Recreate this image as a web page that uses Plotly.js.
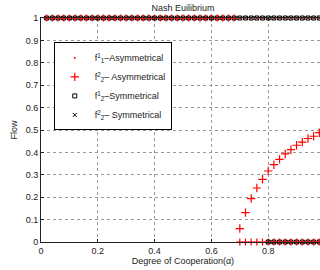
<!DOCTYPE html>
<html>
<head>
<meta charset="utf-8">
<script src="https://cdn.plot.ly/plotly-3.0.1.min.js"></script>
<style>
html,body{margin:0;padding:0;overflow:hidden;background:#fff;}
#chart{width:340px;height:270px;}
</style>
</head>
<body>
<div id="chart"></div>
<script>
// Degree of cooperation (alpha) sample points
const alpha = [0.02,0.04,0.06,0.08,0.10,0.12,0.14,0.16,0.18,0.20,
               0.22,0.24,0.26,0.28,0.30,0.32,0.34,0.36,0.38,0.40,
               0.42,0.44,0.46,0.48,0.50,0.52,0.54,0.56,0.58,0.60,
               0.62,0.64,0.66,0.68,0.70,0.72,0.74,0.76,0.78,0.80,
               0.82,0.84,0.86,0.88,0.90,0.92,0.94,0.96,0.98,1.00];
// f_1^1 asymmetrical (red dots)
const f11Asym = [1,1,1,1,1,1,1,1,1,1, 1,1,1,1,1,1,1,1,1,1,
                 1,1,1,1,1,1,1,1,1,1, 1,1,1,1,1,1,1,1,1,1,
                 1,1,1,1,1,1,1,1,1,1];
// second asymmetrical flow component (red +, not in legend): 1 before alpha=0.7, 0 after
const f21Asym = [1,1,1,1,1,1,1,1,1,1, 1,1,1,1,1,1,1,1,1,1,
                 1,1,1,1,1,1,1,1,1,1, 1,1,1,1,0,0,0,0,0,0,
                 0,0,0,0,0,0,0,0,0,0];
// f_2^2 asymmetrical (red +), rising part from alpha=0.7
const f22Asym = [null,null,null,null,null,null,null,null,null,null,
                 null,null,null,null,null,null,null,null,null,null,
                 null,null,null,null,null,null,null,null,null,null,
                 null,null,null,null,0.060,0.131,0.194,0.241,0.280,0.317,
                 0.345,0.369,0.393,0.412,0.432,0.446,0.462,0.472,0.488,0.500];
// symmetrical flows (top row)
const f12Sym = [1,1,1,1,1,1,1,1,1,1, 1,1,1,1,1,1,1,1,1,1,
                1,1,1,1,1,1,1,1,1,1, 1,1,1,1,1,1,1,1,1,1,
                1,1,1,1,1,1,1,1,1,1];
const f22Sym = [1,1,1,1,1,1,1,1,1,1, 1,1,1,1,1,1,1,1,1,1,
                1,1,1,1,1,1,1,1,1,1, 1,1,1,1,1,1,1,1,1,1,
                1,1,1,1,1,1,1,1,1,1];
// symmetrical flows at zero for high alpha
const symLowAlpha = [0.80,0.82,0.84,0.86,0.88,0.90,0.92,0.94,0.96,0.98,1.00];
const symLow = [0,0,0,0,0,0,0,0,0,0,0];

const xTicks = [0,0.2,0.4,0.6,0.8];
const xTickText = ['0','0.2','0.4','0.6','0.8'];
const yTicks = [0,0.1,0.2,0.3,0.4,0.5,0.6,0.7,0.8,0.9,1];
const yTickText = ['0','0.1','0.2','0.3','0.4','0.5','0.6','0.7','0.8','0.9','1'];

const labels = {
  f11: 'f<sup>1</sup><sub>1</sub>–Asymmetrical',
  f22a: 'f<sup>2</sup><sub>2</sub>– Asymmetrical',
  f12s: 'f<sup>1</sup><sub>2</sub>–Symmetrical',
  f22s: 'f<sup>2</sup><sub>2</sub>– Symmetrical'
};

const traces = [
  {x: symLowAlpha, y: symLow, mode:'markers', showlegend:false, cliponaxis:false,
   marker:{symbol:'square-open', size:4, color:'#000', line:{width:1}}},
  {x: symLowAlpha, y: symLow, mode:'markers', showlegend:false, cliponaxis:false,
   marker:{symbol:'x-thin-open', size:4, color:'#000', line:{width:1, color:'#000'}}},
  {x: alpha, y: f12Sym, name: labels.f12s, mode:'markers', cliponaxis:false, legendrank:3,
   marker:{symbol:'square-open', size:4, color:'#000', line:{width:1}}},
  {x: alpha, y: f22Sym, name: labels.f22s, mode:'markers', cliponaxis:false, legendrank:4,
   marker:{symbol:'x-thin-open', size:4, color:'#000', line:{width:1, color:'#000'}}},
  {x: alpha, y: f21Asym, mode:'markers', showlegend:false, cliponaxis:false,
   marker:{symbol:'cross-thin-open', size:5, color:'#ff0000', line:{width:1.2, color:'#ff0000'}}},
  {x: alpha, y: f11Asym, name: labels.f11, mode:'markers', cliponaxis:false, legendrank:1,
   marker:{symbol:'circle', size:2, color:'#ff0000'}},
  {x: alpha, y: f22Asym, name: labels.f22a, mode:'markers', cliponaxis:false, legendrank:2,
   marker:{symbol:'cross-thin-open', size:6, color:'#ff0000', line:{width:1.2, color:'#ff0000'}}}
];

const fontFam = '"Liberation Sans", Arial, Helvetica, sans-serif';
const layout = {
  width: 340, height: 270,
  margin: {l:41, r:15, t:18, b:28},
  paper_bgcolor:'#fff', plot_bgcolor:'#fff',
  font: {family: fontFam, size: 9, color:'#000'},
  showlegend: true,
  title: {text:'Nash Euilibrium', font:{family:fontFam, size:9, color:'#222'},
          x:0.5, xref:'paper', y:0.972, yref:'container', yanchor:'middle'},
  xaxis: {range:[0,1], tickvals:xTicks, ticktext:xTickText,
          ticks:'inside', ticklen:3, tickcolor:'#222', showline:true, linecolor:'#222', linewidth:1,
          mirror:'ticks', showgrid:true, gridcolor:'#999', griddash:'dot', gridwidth:1, zeroline:false,
          tickfont:{size:9, color:'#222'},
          title:{text:'Degree of Cooperation(α)', font:{size:9, color:'#222'}, standoff:2}},
  yaxis: {range:[0,1], tickvals:yTicks, ticktext:yTickText,
          ticks:'inside', ticklen:3, tickcolor:'#222', showline:true, linecolor:'#222', linewidth:1,
          mirror:'ticks', showgrid:true, gridcolor:'#999', griddash:'dot', gridwidth:1, zeroline:false,
          tickfont:{size:9, color:'#222'},
          title:{text:'Flow', font:{size:9, color:'#222'}, standoff:6}},
  legend: {x:0.045, y:0.891, xanchor:'left', yanchor:'top', bgcolor:'#fff',
           bordercolor:'#000', borderwidth:1, font:{size:9, color:'#222'},
           traceorder:'normal', itemsizing:'trace', tracegroupgap:0}
};

Plotly.newPlot('chart', traces, layout, {displayModeBar:false, staticPlot:true});
</script>
</body>
</html>
